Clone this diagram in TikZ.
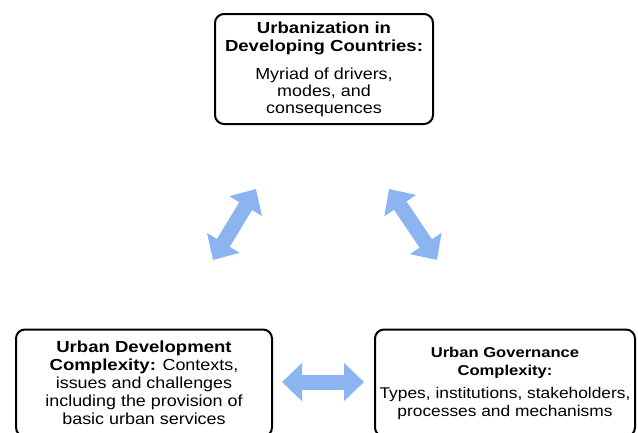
\documentclass[tikz,border=0pt]{standalone}
\usepackage{fontspec}
\setmainfont{Liberation Sans}[FakeStretch=1.12, BoldFeatures={FakeStretch=1.16}]
\usepackage{tikz}
\usetikzlibrary{arrows.meta}

\definecolor{linkblue}{RGB}{140,180,240}

\tikzset{
  stage/.style={draw=black, line width=2pt, rounded corners=9pt, fill=white,
    align=center, inner sep=0pt, font=\fontsize{16}{18}\selectfont},
  link/.style={draw=linkblue, line width=15pt,
    {Triangle[width=37pt,length=20pt]}-{Triangle[width=37pt,length=20pt]}}
}

\begin{document}
\begin{tikzpicture}[x=1pt, y=-1pt]
            \useasboundingbox (0,0) rectangle (638,432);

            \node [stage, minimum width=218pt, minimum height=110pt] (urb) at (324,69)
                {\textbf{Urbanization in}\\ \textbf{Developing Countries:}\\[10pt]
                 Myriad of drivers,\\[-1pt] modes, and\\[-1pt] consequences};
            \node [stage, minimum width=256pt, minimum height=107pt] (dev) at (144,383)
                {\textbf{Urban Development}\\ \textbf{Complexity:} Contexts,\\
                 issues and challenges\\ including the provision of\\ basic urban services};
            \node [stage, minimum width=260pt, minimum height=107pt] (gov) at (505,383)
                {\fontsize{14.3}{17}\selectfont\textbf{Urban Governance}\\
                 \fontsize{14.3}{17}\selectfont\textbf{Complexity:}\\[5pt]
                 \fontsize{15.5}{17.5}\selectfont Types, institutions, stakeholders,\\
                 \fontsize{15.5}{17.5}\selectfont processes and mechanisms};

            % ends of the double arrows
            \coordinate (l1) at (213,260);
            \coordinate (l2) at (256,189);
            \coordinate (r1) at (389,189);
            \coordinate (r2) at (437,260);
            \coordinate (h1) at (282,382);
            \coordinate (h2) at (364,382);

            \draw [link] (l1) -- (l2);
            \draw [link] (r1) -- (r2);
            \draw [link] (h1) -- (h2);
        \end{tikzpicture}
\end{document}
